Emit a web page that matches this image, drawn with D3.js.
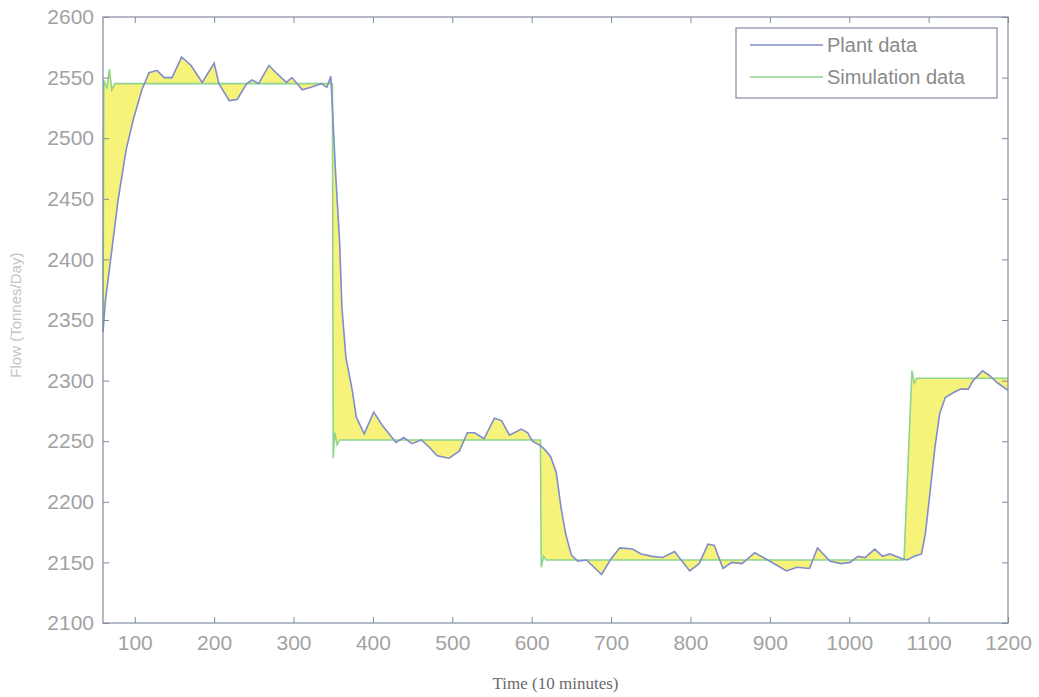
<!DOCTYPE html>
<html>
<head>
<meta charset="utf-8">
<script src="https://cdn.jsdelivr.net/npm/d3@7/dist/d3.min.js"></script>
<style>
	body { margin: 0; background: #fff; }
	.tick text { font-family: 'Liberation Sans', Arial, sans-serif; font-size: 21px; fill: #a2a2a2; }
</style>
</head>
<body>
<div id="draw"></div>
<script>
// plant measurements (time in 10 minute steps, flow in tonnes/day)
var plantTime = [60, 63, 71, 79, 89, 98, 109, 118, 128, 137, 147, 159, 171, 185, 200, 206, 219, 229, 241, 248, 256, 269, 278, 291, 298, 311, 322, 335, 342, 347,
	349, 353, 358, 361, 366, 374, 379, 389, 401, 412, 429, 439, 449, 461, 471, 481, 496, 509, 519, 528, 540, 553, 562, 572, 587, 595, 601, 612, 618,
	624, 631, 637, 643, 650, 658, 669, 688, 700, 711, 727, 738, 752, 765, 780, 799, 811, 822, 830, 841, 852, 865, 881,
	900, 921, 934, 950, 960, 976, 990, 1001, 1011, 1020, 1032, 1042, 1051, 1067, 1073, 1082, 1091,
	1096, 1102, 1108, 1114, 1121, 1131, 1140, 1150, 1156, 1168, 1177, 1187, 1200];
var plantFlow = [2340, 2366, 2407, 2449, 2490, 2515, 2540, 2554, 2556, 2550, 2550, 2567, 2560, 2546, 2562, 2545, 2531, 2532, 2545, 2548, 2545, 2560, 2554, 2546, 2550, 2540, 2542, 2545, 2542, 2551,
	2525, 2471, 2415, 2360, 2319, 2292, 2270, 2256, 2274, 2263, 2249, 2253, 2248, 2251, 2245, 2238, 2236, 2242, 2257, 2257, 2252, 2269, 2267, 2255, 2260, 2257, 2250, 2246, 2242,
	2237, 2224, 2195, 2173, 2156, 2151, 2152, 2140, 2153, 2162, 2161, 2157, 2155, 2154, 2159, 2143, 2149, 2165, 2164, 2145, 2150, 2149, 2158,
	2151, 2143, 2146, 2145, 2162, 2151, 2149, 2150, 2155, 2154, 2161, 2155, 2157, 2153, 2152, 2155, 2157,
	2174, 2209, 2245, 2273, 2286, 2290, 2293, 2293, 2300, 2308, 2304, 2298, 2292];

// simulation output
var simTime = [60, 61, 65, 68, 71, 75, 349, 350, 352, 355, 358, 611, 612, 615, 618, 1069, 1079, 1082, 1085, 1200];
var simFlow = [2340, 2548, 2541, 2557, 2540, 2545, 2545, 2236, 2257, 2247, 2251, 2251, 2146, 2155, 2152, 2152, 2308, 2298, 2302, 2302];

var xTicks = [100, 200, 300, 400, 500, 600, 700, 800, 900, 1000, 1100, 1200];
var yTicks = [2100, 2150, 2200, 2250, 2300, 2350, 2400, 2450, 2500, 2550, 2600];
var seriesNames = ['Plant data', 'Simulation data'];

var margin = { top: 17, right: 31, bottom: 74, left: 103 },
	width = 1039 - margin.left - margin.right,
	height = 697 - margin.top - margin.bottom;

var plantColor = '#7f8dcc',
	simColor = '#8fd48f',
	boxColor = '#838aa0';

var svg = d3
	.select('#draw')
	.append('svg')
	.attr('width', width + margin.left + margin.right)
	.attr('height', height + margin.top + margin.bottom)
	.append('g')
	.attr('transform', 'translate(' + margin.left + ',' + margin.top + ')');

var x = d3.scaleLinear().domain([60, 1200]).range([0, width]);
var y = d3.scaleLinear().domain([2100, 2600]).range([height, 0]);

var plant = plantTime.map(function (t, i) { return [t, plantFlow[i]]; });
var sim = simTime.map(function (t, i) { return [t, simFlow[i]]; });

var line = d3.line()
	.x(function (d) { return x(d[0]); })
	.y(function (d) { return y(d[1]); });

// yellow region between the two curves: plant forward, simulation back
svg.append('path')
	.attr('d', line(plant.concat(sim.slice().reverse())) + 'Z')
	.style('fill', '#f6f27a')
	.style('stroke', 'none');

svg.append('path')
	.attr('d', line(sim))
	.style('fill', 'none')
	.style('stroke', simColor)
	.style('stroke-width', 1.6);

svg.append('path')
	.attr('d', line(plant))
	.style('fill', 'none')
	.style('stroke', plantColor)
	.style('stroke-width', 1.6);

// axes, ticks pointing inward on all four sides
function styleAxis(g) {
	g.select('.domain').remove();
	g.selectAll('.tick line').style('stroke', boxColor);
}

svg.append('g')
	.attr('transform', 'translate(0,' + height + ')')
	.call(d3.axisBottom(x).tickValues(xTicks).tickSize(-6).tickPadding(12).tickFormat(d3.format('d')))
	.call(styleAxis);
svg.append('g')
	.call(d3.axisTop(x).tickValues(xTicks).tickSize(-6).tickFormat(''))
	.call(styleAxis);
svg.append('g')
	.call(d3.axisLeft(y).tickValues(yTicks).tickSize(-6).tickPadding(9).tickFormat(d3.format('d')))
	.call(styleAxis);
svg.append('g')
	.attr('transform', 'translate(' + width + ',0)')
	.call(d3.axisRight(y).tickValues(yTicks).tickSize(-6).tickFormat(''))
	.call(styleAxis);

svg.append('rect')
	.attr('width', width)
	.attr('height', height)
	.style('fill', 'none')
	.style('stroke', boxColor)
	.style('stroke-width', 1.2);

svg.append('text')
	.attr('x', width / 2)
	.attr('y', height + 66)
	.style('text-anchor', 'middle')
	.style('font-family', "'Liberation Serif', 'Times New Roman', serif")
	.style('font-size', '17px')
	.style('fill', '#6a6a6a')
	.text('Time (10 minutes)');

svg.append('text')
	.attr('transform', 'translate(' + (-82) + ',' + y(2354) + ') rotate(-90)')
	.style('text-anchor', 'middle')
	.style('font-family', "'Liberation Sans', Arial, sans-serif")
	.style('font-size', '15px')
	.style('fill', '#c4c4c4')
	.text('Flow (Tonnes/Day)');

// legend
var legend = svg.append('g')
	.attr('transform', 'translate(' + (width - 272) + ',11)');

legend.append('rect')
	.attr('width', 261)
	.attr('height', 70)
	.style('fill', '#fff')
	.style('stroke', boxColor)
	.style('stroke-width', 1.2);

legend.selectAll('g.item')
	.data(seriesNames)
	.enter()
	.append('g')
	.attr('class', 'item')
	.attr('transform', function (d, i) { return 'translate(0,' + (17 + i * 32) + ')'; })
	.each(function (d, i) {
		var g = d3.select(this);
		g.append('line')
			.attr('x1', 14)
			.attr('x2', 87)
			.style('stroke', i === 0 ? plantColor : simColor)
			.style('stroke-width', 1.6);
		g.append('text')
			.attr('x', 91)
			.attr('y', 7)
			.style('font-family', "'Liberation Sans', Arial, sans-serif")
			.style('font-size', '20px')
			.style('fill', '#8a8a8a')
			.text(d);
	});
</script>
</body>
</html>
